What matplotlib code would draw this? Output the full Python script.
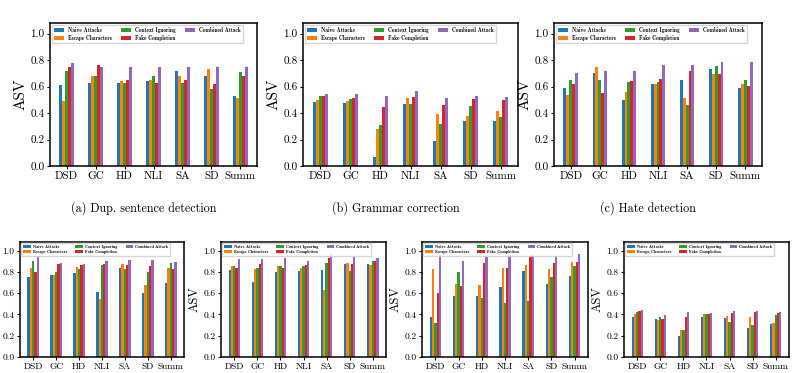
import numpy as np
import matplotlib
matplotlib.use("Agg")
import matplotlib.pyplot as plt

plt.rcParams['font.family'] = 'serif'
plt.rcParams['font.serif'] = ['cmr10']
plt.rcParams['mathtext.fontset'] = 'cm'
plt.rcParams['axes.formatter.use_mathtext'] = True

tasks = ['DSD', 'GC', 'HD', 'NLI', 'SA', 'SD', 'Summ']
attacks = ['Naive Attacks', 'Escape Characters', 'Context Ignoring',
           'Fake Completion', 'Combined Attack']
colors = ['#1f77b4', '#ff7f0e', '#2ca02c', '#d62728', '#9467bd']

# (a) Dup. sentence detection - one row per attack
dup_asv = [
    [0.61, 0.63, 0.63, 0.645, 0.72, 0.68, 0.53],
    [0.49, 0.68, 0.645, 0.65, 0.68, 0.735, 0.515],
    [0.72, 0.68, 0.63, 0.68, 0.63, 0.585, 0.71],
    [0.745, 0.765, 0.65, 0.63, 0.65, 0.62, 0.68],
    [0.775, 0.745, 0.75, 0.75, 0.75, 0.75, 0.75],
]
# (b) Grammar correction
gram_asv = [
    [0.485, 0.477, 0.066, 0.47, 0.188, 0.34, 0.34],
    [0.50, 0.492, 0.28, 0.515, 0.393, 0.378, 0.416],
    [0.53, 0.508, 0.31, 0.47, 0.317, 0.454, 0.371],
    [0.53, 0.515, 0.447, 0.523, 0.462, 0.508, 0.50],
    [0.546, 0.546, 0.53, 0.569, 0.515, 0.53, 0.523],
]
# (c) Hate detection
hate_asv = [
    [0.59, 0.705, 0.50, 0.622, 0.652, 0.736, 0.59],
    [0.538, 0.744, 0.561, 0.622, 0.515, 0.698, 0.622],
    [0.652, 0.652, 0.637, 0.637, 0.462, 0.759, 0.652],
    [0.622, 0.553, 0.645, 0.66, 0.721, 0.698, 0.607],
    [0.706, 0.721, 0.721, 0.766, 0.766, 0.782, 0.782],
]
# bottom row, panels without captions
bot1_asv = [
    [0.752, 0.771, 0.79, 0.608, 0.838, 0.599, 0.694],
    [0.838, 0.771, 0.847, 0.541, 0.876, 0.675, 0.838],
    [0.904, 0.799, 0.828, 0.866, 0.828, 0.799, 0.885],
    [0.799, 0.876, 0.866, 0.876, 0.866, 0.857, 0.828],
    [0.95, 0.885, 0.876, 0.904, 0.914, 0.914, 0.895],
]
bot2_asv = [
    [0.818, 0.704, 0.799, 0.809, 0.818, 0.876, 0.876],
    [0.857, 0.828, 0.857, 0.838, 0.627, 0.885, 0.866],
    [0.857, 0.838, 0.857, 0.857, 0.885, 0.809, 0.904],
    [0.838, 0.876, 0.838, 0.866, 0.933, 0.876, 0.904],
    [0.924, 0.924, 0.933, 0.904, 0.971, 0.943, 0.933],
]
bot3_asv = [
    [0.379, 0.57, 0.57, 0.656, 0.809, 0.685, 0.761],
    [0.828, 0.685, 0.675, 0.838, 0.866, 0.828, 0.895],
    [0.322, 0.799, 0.551, 0.503, 0.522, 0.752, 0.857],
    [0.599, 0.666, 0.885, 0.838, 0.95, 0.885, 0.895],
    [0.96, 0.904, 0.95, 0.96, 0.96, 0.95, 0.971],
]
bot4_asv = [
    [0.379, 0.36, 0.197, 0.379, 0.369, 0.274, 0.312],
    [0.408, 0.35, 0.255, 0.408, 0.389, 0.379, 0.322],
    [0.427, 0.379, 0.255, 0.408, 0.331, 0.303, 0.398],
    [0.436, 0.36, 0.379, 0.408, 0.417, 0.427, 0.417],
    [0.446, 0.398, 0.427, 0.417, 0.436, 0.436, 0.427],
]

captions = ['(a) Dup. sentence detection', '(b) Grammar correction', '(c) Hate detection']

W, H = 809, 373
fig = plt.figure(figsize=(W / 100, H / 100), dpi=100)


def px_axes(left, right, top, bottom):
    return fig.add_axes([left / W, 1 - bottom / H, (right - left) / W, (bottom - top) / H])


def draw_panel(ax, values, tick_fs, label_fs, leg_fs, hlen, hpad, cspace):
    x = np.arange(len(tasks))
    width = 0.1
    for i, (name, vals) in enumerate(zip(attacks, values)):
        ax.bar(x + (i - 2) * width, vals, width, color=colors[i], label=name)
    ax.set_xticks(x)
    ax.set_xticklabels(tasks, fontsize=tick_fs)
    ax.set_ylim(0, 1.08)
    ax.set_yticks([0.0, 0.2, 0.4, 0.6, 0.8, 1.0])
    ax.set_yticklabels(['0.0', '0.2', '0.4', '0.6', '0.8', '1.0'], fontsize=tick_fs)
    ax.set_ylabel('ASV', fontsize=label_fs, labelpad=2)
    ax.tick_params(length=2.5, width=0.8, pad=1.5)
    for sp in ax.spines.values():
        sp.set_linewidth(1.1)
    ax.legend(loc='upper left', ncol=3, prop={'family': 'cmb10', 'size': leg_fs},
              handlelength=hlen, handleheight=0.7, handletextpad=hpad,
              columnspacing=cspace, labelspacing=0.3, borderpad=0.4,
              borderaxespad=0.35, fancybox=False, edgecolor='#cccccc')


# top row
top_boxes = [(50, 257), (303, 518), (554, 762)]
top_data = [dup_asv, gram_asv, hate_asv]
caption_x = [144, 396, 648]
for (l, r), vals, cap, cx in zip(top_boxes, top_data, captions, caption_x):
    ax = px_axes(l, r, 23, 166)
    draw_panel(ax, vals, 8, 11, 3.9, 1.8, 0.7, 1.8)
    fig.text(cx / W, 1 - 208 / H, cap, ha='center', va='center', fontsize=8.7)

# bottom row
bot_boxes = [(20, 184), (221, 386), (422, 588), (624, 789)]
bot_data = [bot1_asv, bot2_asv, bot3_asv, bot4_asv]
for (l, r), vals in zip(bot_boxes, bot_data):
    ax = px_axes(l, r, 242, 357)
    draw_panel(ax, vals, 6.8, 9, 3.0, 1.8, 0.5, 2.0)

fig.savefig('out.png', dpi=100)
